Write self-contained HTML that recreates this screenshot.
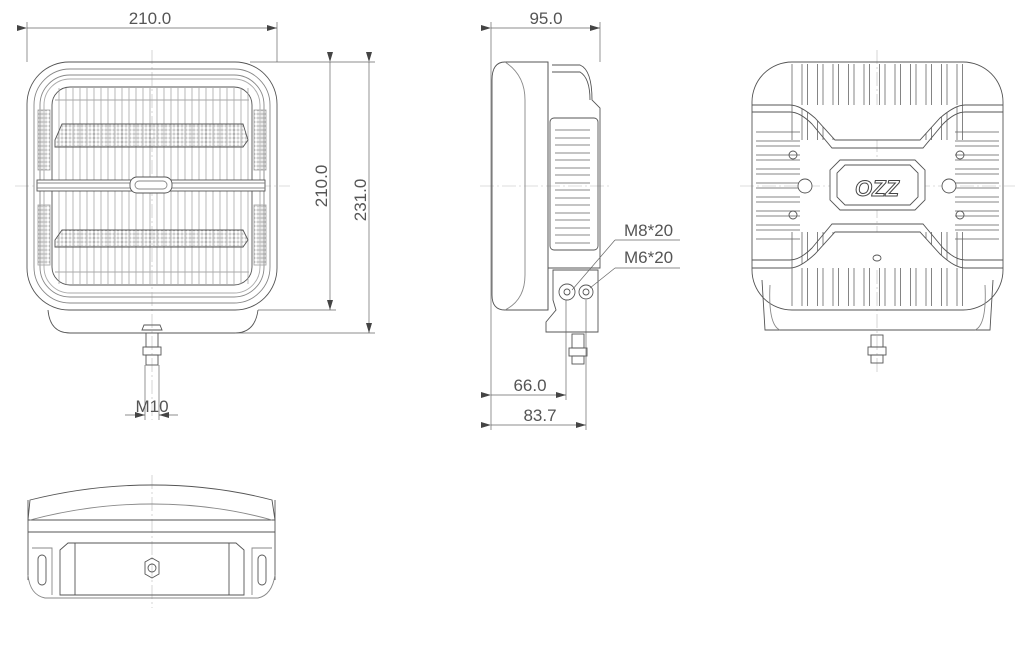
<!DOCTYPE html>
<html><head><meta charset="utf-8"><style>
html,body{margin:0;padding:0;background:#fff;width:1030px;height:646px;overflow:hidden}
svg{display:block}
text{font-family:"Liberation Sans",sans-serif;fill:#555;font-size:17px}
</style></head><body>
<svg width="1030" height="646" viewBox="0 0 1030 646" xmlns="http://www.w3.org/2000/svg">
<defs>
<pattern id="vl" width="7" height="10" patternUnits="userSpaceOnUse"><line x1="3" y1="0" x2="3" y2="10" stroke="#999" stroke-width="0.7"/></pattern>
<pattern id="dots" width="4" height="4" patternUnits="userSpaceOnUse"><circle cx="2" cy="2" r="1.1" fill="none" stroke="#888" stroke-width="0.5"/></pattern>
<pattern id="vf" width="15.5" height="10" patternUnits="userSpaceOnUse" x="790"><rect x="2" y="-1" width="10" height="12" fill="none" stroke="#666" stroke-width="0.8"/></pattern>
<pattern id="hf" width="10" height="14" patternUnits="userSpaceOnUse" y="130"><rect x="-1" y="2" width="12" height="9" fill="none" stroke="#666" stroke-width="0.8"/></pattern>
<marker id="ar" markerWidth="10" markerHeight="6" refX="10" refY="3" orient="auto" markerUnits="userSpaceOnUse"><path d="M0,0 L10,3 L0,6 z" fill="#444"/></marker>
</defs>
<g stroke="#555" stroke-width="0.9" fill="none">
<g stroke="#bbb" stroke-width="0.6" stroke-dasharray="14 3 2 3">
<line x1="152" y1="50" x2="152" y2="420"/><line x1="15" y1="186" x2="290" y2="186"/>
<line x1="480" y1="186" x2="610" y2="186"/>
<line x1="877" y1="50" x2="877" y2="375"/><line x1="740" y1="186" x2="1015" y2="186"/>
<line x1="152" y1="475" x2="152" y2="608"/>
</g>
<rect x="27" y="62" width="250" height="248" rx="42"/>
<rect x="34" y="69" width="236" height="234" rx="36" stroke="#888"/>
<rect x="40" y="75" width="224" height="222" rx="30" stroke="#888"/>
<rect x="44" y="79" width="216" height="214" rx="26" stroke="#aaa"/>
<rect x="52" y="87" width="200" height="198" rx="18"/>
<rect x="55" y="88" width="194" height="196" fill="url(#vl)" stroke="none"/>
<line x1="55" y1="100" x2="249" y2="100" stroke="#aaa"/>
<line x1="55" y1="272" x2="249" y2="272" stroke="#aaa"/>
<path d="M62,124 L243,124 L248,140 L243,147 L55,147 L55,140 Z" fill="url(#dots)"/>
<path d="M62,230 L243,230 L248,240 L243,247 L55,247 L55,240 Z" fill="url(#dots)"/>
<rect x="38" y="110" width="12" height="60" fill="url(#dots)" stroke="#aaa"/>
<rect x="254" y="110" width="12" height="60" fill="url(#dots)" stroke="#aaa"/>
<rect x="38" y="205" width="12" height="60" fill="url(#dots)" stroke="#aaa"/>
<rect x="254" y="205" width="12" height="60" fill="url(#dots)" stroke="#aaa"/>
<rect x="37" y="180" width="228" height="11" fill="#fff"/>
<line x1="37" y1="183" x2="265" y2="183" stroke="#888"/><line x1="37" y1="188" x2="265" y2="188" stroke="#888"/>
<rect x="130" y="177" width="42" height="16" rx="7" fill="#fff"/>
<rect x="135" y="181" width="32" height="8" rx="4" stroke="#888"/>
<path d="M48,310 Q50,333 70,333 L235,333 Q255,333 258,310"/>
<path d="M142,330 L162,330 L160,325 L144,325 Z"/>
<rect x="146" y="333" width="12" height="14"/><rect x="143" y="347" width="18" height="8"/><rect x="146" y="355" width="12" height="10"/>
<g stroke="#666" stroke-width="0.7">
<line x1="27" y1="28" x2="277" y2="28" marker-start="url(#ar)" marker-end="url(#ar)"/>
<line x1="27" y1="22" x2="27" y2="62"/><line x1="277" y1="22" x2="277" y2="62"/>
<line x1="330" y1="62" x2="330" y2="310" marker-start="url(#ar)" marker-end="url(#ar)"/>
<line x1="369" y1="62" x2="369" y2="333" marker-start="url(#ar)" marker-end="url(#ar)"/>
<line x1="250" y1="62" x2="375" y2="62"/><line x1="258" y1="310" x2="336" y2="310"/><line x1="235" y1="333" x2="375" y2="333"/>
<line x1="145" y1="365" x2="145" y2="420"/><line x1="159" y1="365" x2="159" y2="420"/>
<line x1="125" y1="415" x2="145" y2="415" marker-end="url(#ar)"/><line x1="178" y1="415" x2="159" y2="415" marker-end="url(#ar)"/>
</g>
<path d="M548,62 L505,62 Q492,62 492,80 L492,295 Q492,310 505,310 L548,310 Z"/>
<path d="M505,62 Q525,75 525,100 L525,275 Q525,300 505,310" stroke="#888"/>
<path d="M548,62 L548,310"/>
<path d="M552,65 L580,65 Q592,70 592,100 L600,108 L600,268 L548,268"/>
<path d="M552,72 L580,72 Q590,78 590,100"/>
<rect x="550" y="118" width="48" height="132" rx="4"/>
<g stroke="#888"><line x1="555" y1="130" x2="590" y2="130"/><line x1="555" y1="145" x2="590" y2="145"/><line x1="555" y1="160" x2="590" y2="160"/><line x1="555" y1="175" x2="590" y2="175"/><line x1="555" y1="190" x2="590" y2="190"/><line x1="555" y1="205" x2="590" y2="205"/><line x1="555" y1="220" x2="590" y2="220"/><line x1="555" y1="235" x2="590" y2="235"/><line x1="555" y1="138" x2="590" y2="138"/><line x1="555" y1="153" x2="590" y2="153"/><line x1="555" y1="168" x2="590" y2="168"/><line x1="555" y1="183" x2="590" y2="183"/><line x1="555" y1="198" x2="590" y2="198"/><line x1="555" y1="213" x2="590" y2="213"/><line x1="555" y1="228" x2="590" y2="228"/><line x1="555" y1="243" x2="590" y2="243"/></g>
<path d="M553,270 L598,270 L598,332 L546,332 L546,322 L556,310 L553,300 Z"/>
<circle cx="567" cy="292" r="8"/><circle cx="567" cy="292" r="3"/>
<circle cx="586" cy="292" r="7"/><circle cx="586" cy="292" r="3"/>
<rect x="572" y="334" width="12" height="14"/><rect x="569" y="348" width="18" height="8"/><rect x="572" y="356" width="12" height="8"/>
<g stroke="#666" stroke-width="0.7">
<line x1="491" y1="28" x2="600" y2="28" marker-start="url(#ar)" marker-end="url(#ar)"/>
<line x1="491" y1="22" x2="491" y2="430"/><line x1="600" y1="22" x2="600" y2="62"/>
<line x1="491" y1="395" x2="566" y2="395" marker-start="url(#ar)" marker-end="url(#ar)"/>
<line x1="491" y1="425" x2="586" y2="425" marker-start="url(#ar)" marker-end="url(#ar)"/>
<line x1="566" y1="300" x2="566" y2="400"/><line x1="586" y1="300" x2="586" y2="430"/>
<line x1="572" y1="290" x2="615" y2="240"/><line x1="615" y1="240" x2="680" y2="240"/>
<line x1="590" y1="288" x2="615" y2="268"/><line x1="615" y1="268" x2="680" y2="268"/>
</g>
<rect x="752" y="62" width="251" height="248" rx="40"/>
<rect x="790" y="64" width="175" height="76" fill="url(#vf)" stroke="none"/>
<rect x="790" y="232" width="175" height="74" fill="url(#vf)" stroke="none"/>
<rect x="756" y="130" width="44" height="112" fill="url(#hf)" stroke="none"/>
<rect x="955" y="130" width="44" height="112" fill="url(#hf)" stroke="none"/>
<path d="M752,105 L790,105 Q800,105 815,118 L835,140 L920,140 L940,118 Q955,105 965,105 L1003,105" fill="#fff"/>
<path d="M752,112 L790,112 Q800,112 812,124 L832,148 L923,148 L943,124 Q955,112 965,112 L1003,112"/>
<path d="M752,268 L790,268 Q800,268 815,254 L835,232 L920,232 L940,254 Q955,268 965,268 L1003,268" fill="#fff"/>
<path d="M752,260 L790,260 Q800,260 812,248 L832,224 L923,224 L943,248 Q955,260 965,260 L1003,260"/>
<path d="M840,160 L915,160 L925,170 L925,200 L915,210 L840,210 L830,200 L830,170 Z" fill="#fff"/>
<path d="M845,165 L910,165 L918,173 L918,197 L910,205 L845,205 L837,197 L837,173 Z"/>
<text x="877" y="196" text-anchor="middle" style="font-size:22px;font-weight:bold;font-style:italic;fill:#fff;stroke:#444;stroke-width:1">OZZ</text>
<circle cx="805" cy="186" r="7" fill="#fff"/><circle cx="949" cy="186" r="7" fill="#fff"/>
<circle cx="793" cy="155" r="4"/><circle cx="793" cy="215" r="4"/><circle cx="960" cy="155" r="4"/><circle cx="960" cy="215" r="4"/>
<ellipse cx="877" cy="258" rx="4" ry="3"/>
<path d="M762,280 L765,330 L990,330 L993,280"/>
<path d="M770,285 Q768,325 780,330" stroke="#888"/><path d="M985,285 Q987,325 975,330" stroke="#888"/>
<rect x="871" y="335" width="12" height="12"/><rect x="868" y="347" width="18" height="8"/><rect x="871" y="355" width="12" height="8"/>
<path d="M30,500 Q90,485 152,485 Q215,485 272,500 L275,520 L28,520 Z"/>
<path d="M30,520 Q90,504 152,504 Q215,504 272,520" stroke="#888"/>
<line x1="28" y1="532" x2="275" y2="532"/>
<line x1="28" y1="500" x2="28" y2="580"/><line x1="275" y1="500" x2="275" y2="580"/>
<path d="M28,575 Q30,595 45,598 L258,598 Q272,595 275,575" stroke="#888"/>
<path d="M60,550 L68,543 L236,543 L244,550 L244,595 L60,595 Z"/>
<line x1="75" y1="543" x2="75" y2="595"/><line x1="229" y1="543" x2="229" y2="595"/>
<path d="M32,548 L52,548 L52,595" stroke="#888"/><path d="M272,548 L252,548 L252,595" stroke="#888"/>
<rect x="38" y="555" width="8" height="30" rx="4"/><rect x="258" y="555" width="8" height="30" rx="4"/>
<path d="M145,562 L152,558 L159,562 L159,574 L152,578 L145,574 Z"/>
<circle cx="152" cy="568" r="4"/>
</g>
<text x="150" y="24" text-anchor="middle">210.0</text>
<text transform="translate(327,186) rotate(-90)" text-anchor="middle">210.0</text>
<text transform="translate(366,200) rotate(-90)" text-anchor="middle">231.0</text>
<text x="152" y="412" text-anchor="middle">M10</text>
<text x="546" y="24" text-anchor="middle">95.0</text>
<text x="624" y="236">M8*20</text>
<text x="624" y="263">M6*20</text>
<text x="530" y="391" text-anchor="middle">66.0</text>
<text x="540" y="421" text-anchor="middle">83.7</text>
</svg>
</body></html>
